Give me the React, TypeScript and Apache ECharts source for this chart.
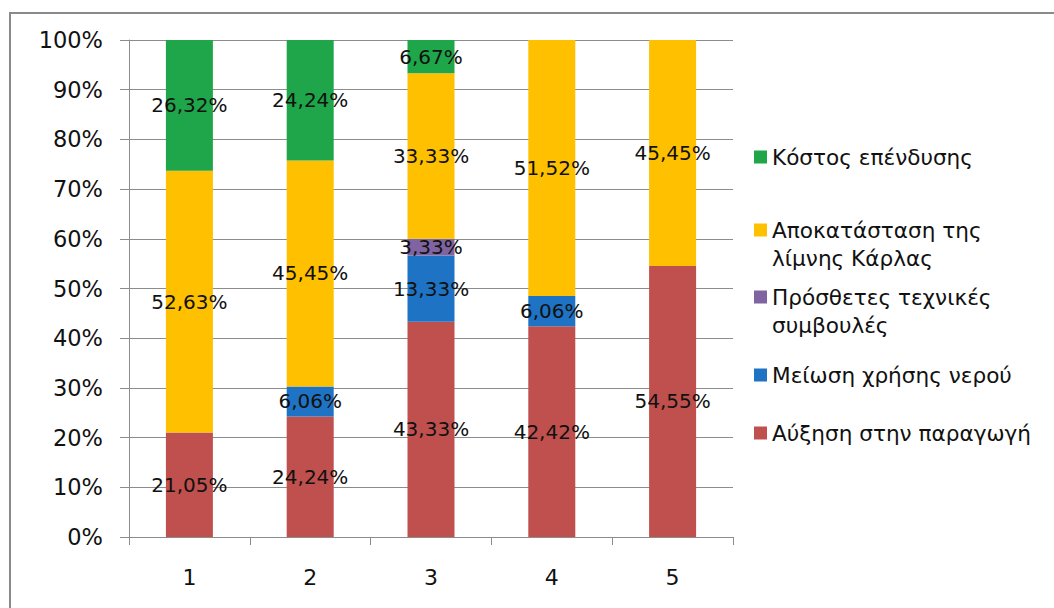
import React, { useEffect, useRef } from "react";
import * as echarts from "echarts";

const categories = ["1", "2", "3", "4", "5"];
const seriesNames = [
  "Αύξηση στην παραγωγή",
  "Μείωση χρήσης νερού",
  "Πρόσθετες τεχνικές συμβουλές",
  "Αποκατάσταση της λίμνης Κάρλας",
  "Κόστος επένδυσης",
];
const auxisi = [21.05, 24.24, 43.33, 42.42, 54.55];
const meiosi = [null, 6.06, 13.33, 6.06, null];
const prosthetes = [null, null, 3.33, null, null];
const apokatastasi = [52.63, 45.45, 33.33, 51.52, 45.45];
const kostos = [26.32, 24.24, 6.67, null, null];
const seriesValues = [auxisi, meiosi, prosthetes, apokatastasi, kostos];
const colors = ["#C0504D", "#1F73C4", "#8064A2", "#FFC000", "#1FA64A"];
const yTicks = [0, 10, 20, 30, 40, 50, 60, 70, 80, 90, 100];

// legend order (top to bottom) and vertical positions
const legendOrder = [4, 3, 2, 1, 0];
const legendTops = [143, 216, 283, 361, 419];

const FONT = "DejaVu Sans";

export default function App() {
  const ref = useRef<HTMLDivElement>(null);
  useEffect(() => {
    if (!ref.current) return;
    const chart = echarts.init(ref.current, undefined, { renderer: "svg" });
    const wrap = (n: string) =>
      n.replace("της λίμνης", "της\nλίμνης").replace("τεχνικές συμβουλές", "τεχνικές\nσυμβουλές");
    const legends = legendOrder.map((si, i) => {
      const twoLine = wrap(seriesNames[si]) !== seriesNames[si];
      return {
        data: [seriesNames[si]],
        orient: "vertical",
        left: 754,
        top: legendTops[i],
        padding: 0,
        selectedMode: false,
        itemWidth: 13,
        itemHeight: twoLine ? 41 : 13,
        icon: twoLine ? "path://M0,0L13,0L13,13L0,13Z M0,41L0.01,41" : "rect",
        formatter: (n: string) => wrap(n),
        textStyle: { fontFamily: FONT, fontSize: 21.6, lineHeight: 28, color: "#111" },
      };
    });
    chart.setOption({
      animation: false,
      backgroundColor: "#ffffff",
      graphic: [
        {
          type: "rect",
          shape: { x: 10, y: 13, width: 1100, height: 700 },
          style: { fill: "none", stroke: "#8a8a8a", lineWidth: 2 },
          silent: true,
        },
      ],
      legend: legends,
      grid: { left: 129, top: 40, width: 604, height: 497, containLabel: false },
      xAxis: {
        type: "category",
        data: categories,
        axisLine: { lineStyle: { color: "#8c8c8c", width: 1 } },
        axisTick: { show: true, length: 8, lineStyle: { color: "#8c8c8c" } },
        axisLabel: { fontFamily: FONT, fontSize: 22, color: "#111", margin: 29 },
      },
      yAxis: {
        type: "value",
        min: yTicks[0],
        max: yTicks[yTicks.length - 1],
        interval: 10,
        axisLine: { show: true, lineStyle: { color: "#8c8c8c", width: 1 } },
        axisTick: { show: true, length: 9, lineStyle: { color: "#8c8c8c" } },
        splitLine: { show: true, lineStyle: { color: "#8c8c8c", width: 1 } },
        axisLabel: {
          fontFamily: FONT,
          fontSize: 22.5,
          color: "#111",
          margin: 26,
          formatter: (v: number) => v + "%",
        },
      },
      series: seriesNames.map((name, i) => ({
        name,
        type: "bar",
        stack: "total",
        barWidth: 47,
        data: seriesValues[i],
        itemStyle: { color: colors[i] },
        label: {
          show: true,
          position: "inside",
          fontFamily: FONT,
          fontSize: 20,
          color: "#111",
          formatter: (p: any) =>
            p.value == null ? "" : Number(p.value).toFixed(2).replace(".", ",") + "%",
        },
      })),
    });
    return () => chart.dispose();
  }, []);
  return (
    <div
      ref={ref}
      style={{ position: "fixed", left: 0, top: 0, width: 1054, height: 608, background: "#fff" }}
    />
  );
}
